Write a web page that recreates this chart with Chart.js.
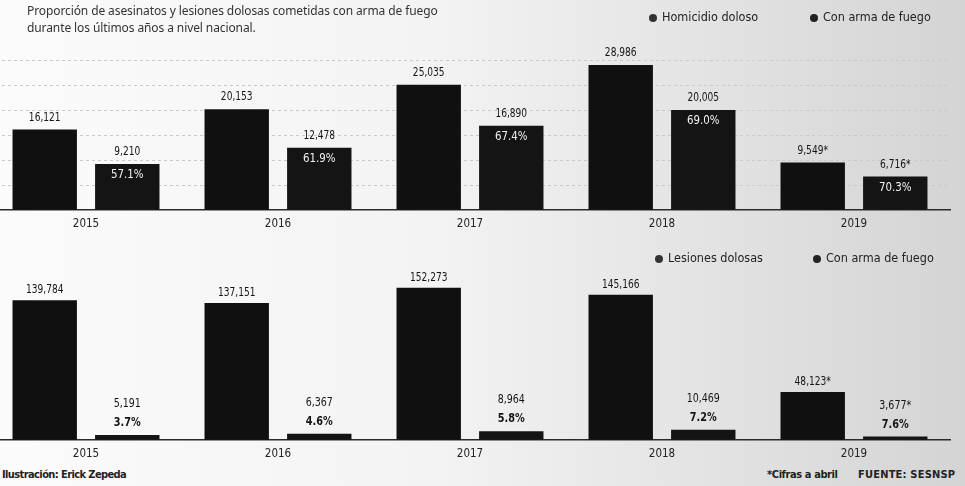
<!DOCTYPE html>
<html>
<head>
<meta charset="utf-8">
<script src="https://cdn.jsdelivr.net/npm/chart.js@4.4.1/dist/chart.umd.min.js"></script>
<style>
  html, body { margin: 0; padding: 0; }
  body {
    width: 965px; height: 486px; overflow: hidden; position: relative;
    background: linear-gradient(to right, #fbfbfb 0%, #f3f3f3 45%, #e2e2e2 75%, #d4d4d4 100%);
    font-family: 'Liberation Sans Narrow', 'DejaVu Sans Condensed', sans-serif;
    color: #222;
  }
  canvas { position: absolute; left: -10px; }
  #top { top: 0; }
  #bottom { top: 250px; }
  .txt { position: absolute; white-space: nowrap; z-index: 2; }
  .title { left: 27px; font-family: 'Noto Sans', sans-serif; font-size: 12px; color: #333; letter-spacing: -0.1px; }
  .leg { font-size: 12.5px; color: #222; }
  .leg i { display: inline-block; width: 8px; height: 8px; border-radius: 50%; background: #222; margin-right: 5px; vertical-align: -0.5px; }
  .foot { font-size: 11px; font-weight: bold; color: #222; }
</style>
</head>
<body>
<div class="txt title" style="top:2px">Proporción de asesinatos y lesiones dolosas cometidas con arma de fuego</div>
<div class="txt title" style="top:19px">durante los últimos años a nivel nacional.</div>

<div class="txt leg" style="left:649px; top:9px"><i style="background:#333"></i>Homicidio doloso</div>
<div class="txt leg" style="left:810px; top:9px"><i></i>Con arma de fuego</div>
<div class="txt leg" style="left:655px; top:250px"><i style="background:#333"></i>Lesiones dolosas</div>
<div class="txt leg" style="left:813px; top:250px"><i></i>Con arma de fuego</div>

<div class="txt foot" style="left:2px; top:468px; letter-spacing:-0.6px">Ilustración: Erick Zepeda</div>
<div class="txt foot" style="left:767px; top:468px; letter-spacing:-0.4px">*Cifras a abril</div>
<div class="txt foot" style="left:858px; top:468px; letter-spacing:0.2px">FUENTE: SESNSP</div>

<canvas id="top" width="975" height="238"></canvas>
<canvas id="bottom" width="975" height="218"></canvas>

<script>
// datos
const years = ['2015', '2016', '2017', '2018', '2019'];
const homicidios = [16121, 20153, 25035, 28986, 9549];
const homicidiosArma = [9210, 12478, 16890, 20005, 6716];
const homicidiosPct = [57.1, 61.9, 67.4, 69.0, 70.3];
const lesiones = [139784, 137151, 152273, 145166, 48123];
const lesionesArma = [5191, 6367, 8964, 10469, 3677];
const lesionesPct = [3.7, 4.6, 5.8, 7.2, 7.6];
const partial = [false, false, false, false, true]; // 2019 = cifras a abril

const labelFont = "'Liberation Sans Narrow', 'DejaVu Sans Condensed', sans-serif";

function fmt(v, i) {
  return v.toLocaleString('en-US') + (partial[i] ? '*' : '');
}

// squeezed text, the paper uses a condensed face
function narrowText(ctx, text, x, y, sx) {
  ctx.save();
  ctx.translate(x, y);
  ctx.scale(sx, 1);
  ctx.fillText(text, 0, 0);
  ctx.restore();
}

// draws the numbers over the bars
const barLabels = {
  id: 'barLabels',
  afterDatasetsDraw(chart, args, opts) {
    const ctx = chart.ctx;
    ctx.save();
    ctx.textAlign = 'center';
    ctx.textBaseline = 'middle';
    chart.data.datasets.forEach(function(ds, d) {
      const meta = chart.getDatasetMeta(d);
      meta.data.forEach(function(bar, i) {
        ctx.font = '12px ' + labelFont;
        ctx.fillStyle = '#151515';
        if (d === 0) {
          narrowText(ctx, fmt(ds.data[i], i), bar.x, bar.y - opts.valueGap, 0.84);
          return;
        }
        const pct = opts.pct[i].toFixed(1) + '%';
        if (opts.pctInside) {
          narrowText(ctx, fmt(ds.data[i], i), bar.x, bar.y - 12, 0.84);
          ctx.fillStyle = '#f2f2f2';
          narrowText(ctx, pct, bar.x, bar.y + 11, 0.95);
        } else {
          narrowText(ctx, fmt(ds.data[i], i), bar.x, bar.y - 31, 0.88);
          ctx.font = 'bold 12px ' + labelFont;
          narrowText(ctx, pct, bar.x, bar.y - 12, 0.9);
        }
      });
    });
    ctx.restore();
  }
};

function makeChart(canvasId, first, second, pct, max, step, padTop, pctInside, valueGap) {
  const ctx = document.getElementById(canvasId).getContext('2d');
  return new Chart(ctx, {
    type: 'bar',
    data: {
      labels: years,
      datasets: [{
        data: first,
        backgroundColor: '#101010',
        categoryPercentage: 0.86,
        barPercentage: 0.78
      }, {
        data: second,
        backgroundColor: '#141414',
        categoryPercentage: 0.86,
        barPercentage: 0.78
      }]
    },
    options: {
      responsive: false,
      animation: false,
      layout: { padding: { left: 0, right: 15, top: padTop, bottom: 0 } },
      plugins: {
        legend: { display: false },
        tooltip: { enabled: false },
        barLabels: { pct: pct, pctInside: pctInside, valueGap: valueGap }
      },
      scales: {
        x: {
          grid: { display: false, drawTicks: false },
          border: { display: true, color: '#2a2a2a', width: 1.5 },
          ticks: { color: '#222', padding: 7, font: { family: labelFont, size: 11.5 } }
        },
        y: {
          min: 0,
          max: max,
          ticks: { display: false, stepSize: step },
          grid: {
            drawTicks: false,
            color: function(c) { return c.tick && c.tick.value % step === 0 && c.tick.value > 0 ? '#cacaca' : 'rgba(0,0,0,0)'; },
            lineWidth: 1
          },
          border: { display: false, dash: [3, 3] }
        }
      }
    },
    plugins: [barLabels]
  });
}

makeChart('top', homicidios, homicidiosArma, homicidiosPct, 30000, 5000, 60, true, 12);
makeChart('bottom', lesiones, lesionesArma, lesionesPct, 160000, 30000, 30, false, 10);
</script>
</body>
</html>
